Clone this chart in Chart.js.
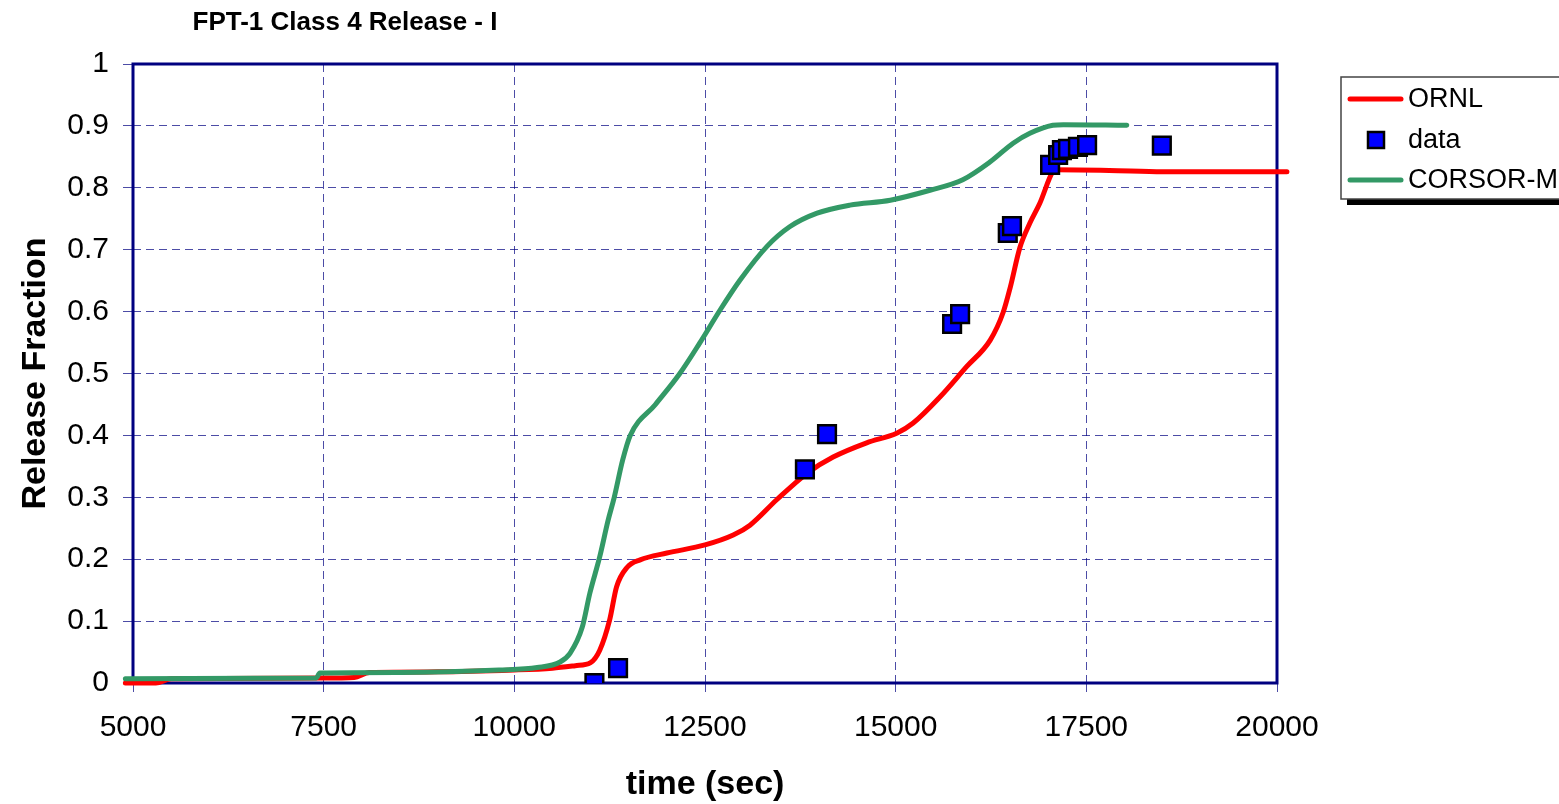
<!DOCTYPE html>
<html>
<head>
<meta charset="utf-8">
<title>FPT-1 Class 4 Release - I</title>
<script src="https://cdn.jsdelivr.net/npm/chart.js@4.4.1/dist/chart.umd.min.js"></script>
<style>
  html, body { margin: 0; padding: 0; background: #fff; }
  #wrap { width: 1559px; height: 804px; }
</style>
</head>
<body>
<div id="wrap"><canvas id="chart" width="1559" height="804"></canvas></div>
<script>
// --- DATA ---
const chartTitle = "FPT-1 Class 4 Release - I";
const xTitle = "time (sec)";
const yTitle = "Release Fraction";
const seriesNames = ["ORNL", "data", "CORSOR-M"];

const xTicks = [5000, 7500, 10000, 12500, 15000, 17500, 20000];
const yTicks = [0, 0.1, 0.2, 0.3, 0.4, 0.5, 0.6, 0.7, 0.8, 0.9, 1];

// ORNL model curve
const ornlTime = [4900, 5300, 5500, 7500, 7900, 8100, 9000, 10000, 10500, 10800, 11000, 11120, 11250, 11340,
  11480, 11650, 12000, 12500, 12870, 13090, 13440, 13840, 14180, 14620, 15020, 15230, 15580, 15930,
  16240, 16410, 16500, 16630, 16760, 16890, 17060, 17100, 17800, 18500, 19500, 20130];
const ornlFraction = [0.0, 0.0, 0.007, 0.008, 0.009, 0.017, 0.018, 0.021, 0.024, 0.028, 0.033, 0.053, 0.102, 0.155,
  0.187, 0.199, 0.210, 0.223, 0.239, 0.255, 0.296, 0.339, 0.365, 0.388, 0.404, 0.420, 0.462, 0.511,
  0.554, 0.599, 0.638, 0.704, 0.743, 0.775, 0.826, 0.829, 0.828, 0.826, 0.826, 0.826];

// measured points
const dataTime = [11050, 11360, 13810, 14100, 15740, 15845, 16470, 16525, 17025, 17130, 17180, 17260, 17390, 17510, 18490];
const dataFraction = [0.0, 0.024, 0.345, 0.402, 0.580, 0.596, 0.727, 0.738, 0.837, 0.853, 0.861, 0.863, 0.866, 0.869, 0.868];

// CORSOR-M model curve
const corsorTime = [4900, 7400, 7450, 8500, 9800, 10300, 10600, 10730, 10890, 10990, 11120, 11230, 11310, 11420,
  11520, 11850, 12170, 12430, 12700, 12960, 13310, 13610, 13970, 14400, 14930, 15450, 15880, 16240,
  16540, 16760, 17060, 17200, 18030];
const corsorFraction = [0.007, 0.008, 0.016, 0.017, 0.021, 0.025, 0.034, 0.048, 0.090, 0.145, 0.204, 0.263, 0.300, 0.360,
  0.400, 0.450, 0.500, 0.549, 0.603, 0.651, 0.705, 0.737, 0.759, 0.772, 0.780, 0.796, 0.813, 0.842,
  0.872, 0.888, 0.901, 0.902, 0.901];

// --- HELPERS ---
const FONT = "'Liberation Sans', Arial, sans-serif";
const NAVY = "#000080";
const GRID = "rgba(0,0,128,0.7)";

function pairs(xs, ys) {
  return xs.map((x, i) => ({ x, y: ys[i] }));
}

// frame, titles and legend box
const decorations = {
  id: "decorations",
  beforeDatasetsDraw(chart) {
    const { ctx, chartArea: a } = chart;
    ctx.save();
    ctx.strokeStyle = NAVY;
    ctx.lineWidth = 3;
    ctx.strokeRect(a.left, a.top, a.right - a.left, a.bottom - a.top);
    ctx.restore();
  },
  afterDraw(chart) {
    const { ctx, chartArea: a } = chart;
    const ds = chart.data.datasets;
    ctx.save();
    ctx.fillStyle = "#000";

    // chart title
    ctx.font = "bold 26px " + FONT;
    ctx.textAlign = "center";
    ctx.textBaseline = "alphabetic";
    ctx.fillText(chartTitle, 345, 30);

    // axis titles
    ctx.font = "bold 34px " + FONT;
    ctx.fillText(xTitle, (a.left + a.right) / 2, 794);
    ctx.save();
    ctx.translate(45, (a.top + a.bottom) / 2);
    ctx.rotate(-Math.PI / 2);
    ctx.font = "bold 34px " + FONT;
    ctx.fillText(yTitle, 0, 0);
    ctx.restore();

    // legend with drop shadow
    const lx = 1341, ly = 77, lw = 260, lh = 122;
    ctx.fillStyle = "#000";
    ctx.fillRect(lx + 6, ly + 6, lw, lh);
    ctx.fillStyle = "#fff";
    ctx.fillRect(lx, ly, lw, lh);
    ctx.strokeStyle = "#444";
    ctx.lineWidth = 1.5;
    ctx.strokeRect(lx, ly, lw, lh);

    const rows = [99, 140, 180];
    ctx.font = "27px " + FONT;
    ctx.textAlign = "left";
    ctx.textBaseline = "middle";
    seriesNames.forEach((name, i) => {
      const d = ds.find(s => s.label === name);
      const y = rows[i];
      if (d.showLine === false) {
        ctx.fillStyle = d.pointBackgroundColor;
        ctx.fillRect(lx + 27, y - 8, 16, 16);
        ctx.strokeStyle = d.pointBorderColor;
        ctx.lineWidth = 2.5;
        ctx.strokeRect(lx + 27, y - 8, 16, 16);
      } else {
        ctx.strokeStyle = d.borderColor;
        ctx.lineWidth = 5;
        ctx.lineCap = "round";
        ctx.beginPath();
        ctx.moveTo(lx + 9, y);
        ctx.lineTo(lx + 60, y);
        ctx.stroke();
      }
      ctx.fillStyle = "#000";
      ctx.fillText(name, lx + 67, y + 1);
    });
    ctx.restore();
  }
};

// --- CHART ---
Chart.defaults.font.family = FONT;
Chart.defaults.color = "#000";

new Chart(document.getElementById("chart"), {
  type: "scatter",
  data: {
    datasets: [
      {
        label: "data",
        data: pairs(dataTime, dataFraction),
        showLine: false,
        pointStyle: "rect",
        pointRadius: 12.5,
        pointHoverRadius: 12.5,
        pointBackgroundColor: "#0000ff",
        pointBorderColor: "#000",
        pointBorderWidth: 2.5,
        order: 0
      },
      {
        label: "CORSOR-M",
        data: pairs(corsorTime, corsorFraction),
        showLine: true,
        borderColor: "#339966",
        borderWidth: 5,
        pointRadius: 0,
        cubicInterpolationMode: "monotone",
        borderCapStyle: "round",
        clip: false,
        order: 1
      },
      {
        label: "ORNL",
        data: pairs(ornlTime, ornlFraction),
        showLine: true,
        borderColor: "#ff0000",
        borderWidth: 5,
        pointRadius: 0,
        cubicInterpolationMode: "monotone",
        borderCapStyle: "round",
        clip: false,
        order: 2
      }
    ]
  },
  options: {
    responsive: false,
    animation: false,
    devicePixelRatio: 1,
    layout: { padding: { left: 0, right: 282, top: 64, bottom: 0 } },
    plugins: { legend: { display: false }, title: { display: false }, tooltip: { enabled: false } },
    scales: {
      x: {
        type: "linear",
        min: xTicks[0],
        max: xTicks[xTicks.length - 1],
        afterBuildTicks: s => { s.ticks = xTicks.map(v => ({ value: v })); },
        afterFit: s => { s.height = 121; },
        ticks: { font: { size: 30 }, padding: 18, maxRotation: 0, callback: v => String(v) },
        grid: { color: GRID, lineWidth: 1, tickLength: 9, tickColor: GRID },
        border: { display: false, dash: [8, 5] }
      },
      y: {
        type: "linear",
        min: 0,
        max: 1,
        afterBuildTicks: s => { s.ticks = yTicks.map(v => ({ value: v })); },
        afterFit: s => { s.width = 133; },
        ticks: { font: { size: 30 }, padding: 14, callback: v => String(v) },
        grid: { color: GRID, lineWidth: 1, tickLength: 10, tickColor: GRID },
        border: { display: false, dash: [8, 5] }
      }
    }
  },
  plugins: [decorations]
});
</script>
</body>
</html>
